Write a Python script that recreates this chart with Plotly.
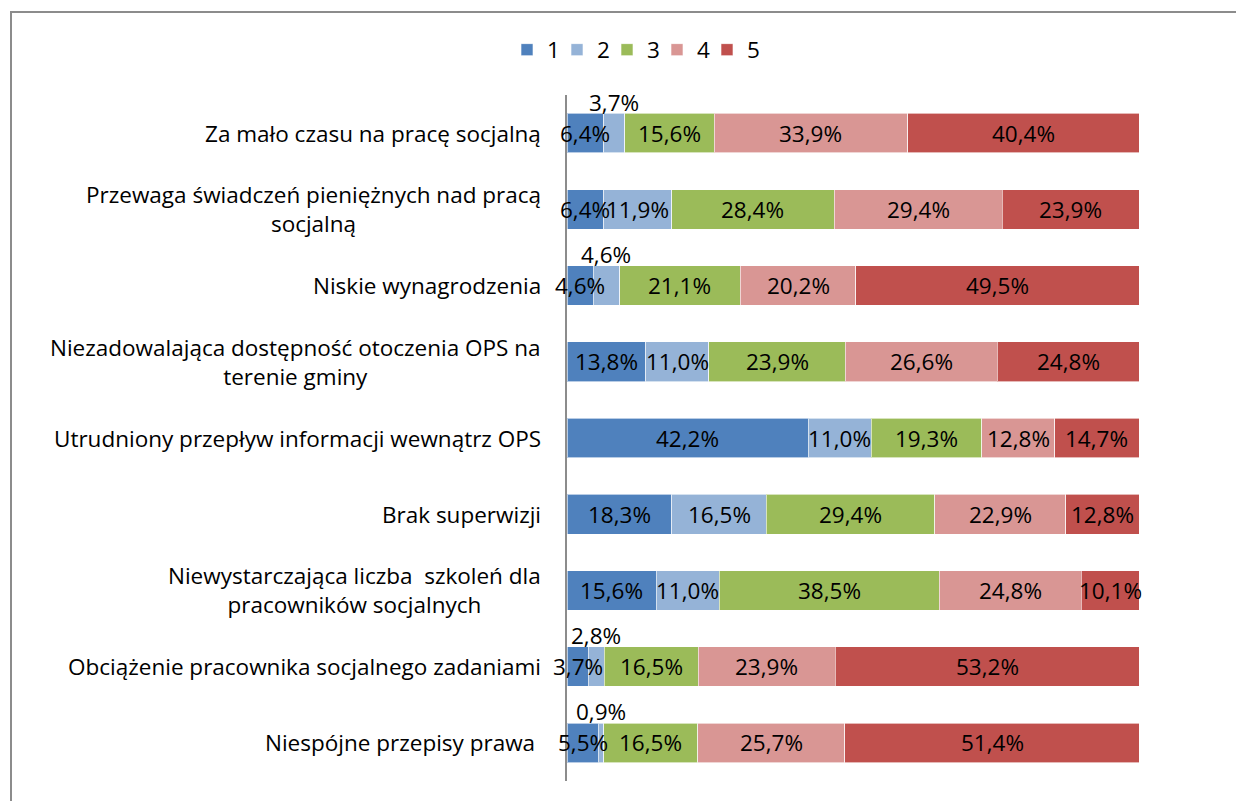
import plotly.graph_objects as go

categories = [
    "Za mało czasu na pracę socjalną",
    "Przewaga świadczeń pieniężnych nad pracą<br>socjalną",
    "Niskie wynagrodzenia",
    "Niezadowalająca dostępność otoczenia OPS na<br>terenie gminy",
    "Utrudniony przepływ informacji wewnątrz OPS",
    "Brak superwizji",
    "Niewystarczająca liczba  szkoleń dla<br>pracowników socjalnych",
    "Obciążenie pracownika socjalnego zadaniami",
    "Niespójne przepisy prawa ",
]
series_names = ["1", "2", "3", "4", "5"]
v1 = [6.4, 6.4, 4.6, 13.8, 42.2, 18.3, 15.6, 3.7, 5.5]
v2 = [3.7, 11.9, 4.6, 11.0, 11.0, 16.5, 11.0, 2.8, 0.9]
v3 = [15.6, 28.4, 21.1, 23.9, 19.3, 29.4, 38.5, 16.5, 16.5]
v4 = [33.9, 29.4, 20.2, 26.6, 12.8, 22.9, 24.8, 23.9, 25.7]
v5 = [40.4, 23.9, 49.5, 24.8, 14.7, 12.8, 10.1, 53.2, 51.4]

colors = ["#4F81BD", "#95B3D7", "#9BBB59", "#D99694", "#C0504D"]
FONT = "'Open Sans', 'Noto Sans', sans-serif"
FS = 22.5

# labels Excel pushed above the bar (category index, series index)
raised = {(0, 1), (2, 1), (7, 1), (8, 1)}

series = [v1, v2, v3, v4, v5]


def fmt(v):
    return f"{v:.1f}".replace(".", ",") + "%"


fig = go.Figure()
annotations = []

for s, (vals, nm, c) in enumerate(zip(series, series_names, colors)):
    fig.add_trace(
        go.Bar(
            name=nm,
            y=categories,
            x=vals,
            orientation="h",
            marker=dict(color=c, line=dict(color="rgba(255,255,255,0.6)", width=1)),
            hoverinfo="x+name",
            legendwidth=20 if s == len(series) - 1 else None,
        )
    )

# data labels at the centre of each segment (drawn on top of all bars)
for i, cat in enumerate(categories):
    row = [ser[i] for ser in series]
    tot = sum(row)
    left = 0
    for s, v in enumerate(row):
        mid = (left + v / 2) / tot * 100
        left += v
        annotations.append(
            dict(
                x=mid,
                y=cat,
                xref="x",
                yref="y",
                text=fmt(v),
                showarrow=False,
                yshift=31 if (i, s) in raised else 0,
                font=dict(size=FS, color="black", family=FONT),
            )
        )

# category labels, centred when wrapped (like Excel)
for cat in categories:
    annotations.append(
        dict(
            x=0,
            y=cat,
            xref="paper",
            yref="y",
            xanchor="right",
            xshift=-24,
            align="center",
            text=cat,
            showarrow=False,
            font=dict(size=FS, color="black", family=FONT),
        )
    )

# page has an 8px body margin; positions below are in page pixels
OFF = 8
FW, FH = 1244 - OFF, 801 - OFF
L, T, W, H = 567 - OFF, 95 - OFF, 572, 686
px = lambda x: (x - OFF - L) / W
py = lambda y: (T + H - (y - OFF)) / H

# outer chart border (cut off at right and bottom)
shapes = [
    dict(
        type="rect",
        xref="paper",
        yref="paper",
        x0=px(11),
        x1=px(1300),
        y0=py(850),
        y1=py(12),
        line=dict(color="#8c8c8c", width=2),
        fillcolor="rgba(0,0,0,0)",
        layer="below",
    )
]

fig.update_xaxes(range=[0, 100], visible=False, fixedrange=True)
fig.update_yaxes(
    autorange=False,
    range=[len(categories) - 0.5, -0.5],
    showticklabels=False,
    showline=True,
    linecolor="#8c8c8c",
    linewidth=2,
    ticks="",
    showgrid=False,
    zeroline=False,
)

fig.update_layout(
    width=FW,
    height=FH,
    barmode="stack",
    barnorm="percent",
    bargap=0.48,
    template="none",
    paper_bgcolor="white",
    plot_bgcolor="white",
    margin=dict(l=L, r=FW - L - W, t=T, b=FH - T - H, pad=0, autoexpand=False),
    font=dict(family=FONT, size=FS, color="black"),
    annotations=annotations,
    shapes=shapes,
    showlegend=True,
    legend=dict(
        orientation="h",
        traceorder="normal",
        xref="paper",
        x=px(507),
        xanchor="left",
        yref="paper",
        y=py(50),
        yanchor="middle",
        font=dict(size=FS, family=FONT),
        itemwidth=30,
        entrywidth=5,
        entrywidthmode="pixels",
        bgcolor="rgba(0,0,0,0)",
    ),
)

fig.write_html("out.html")
